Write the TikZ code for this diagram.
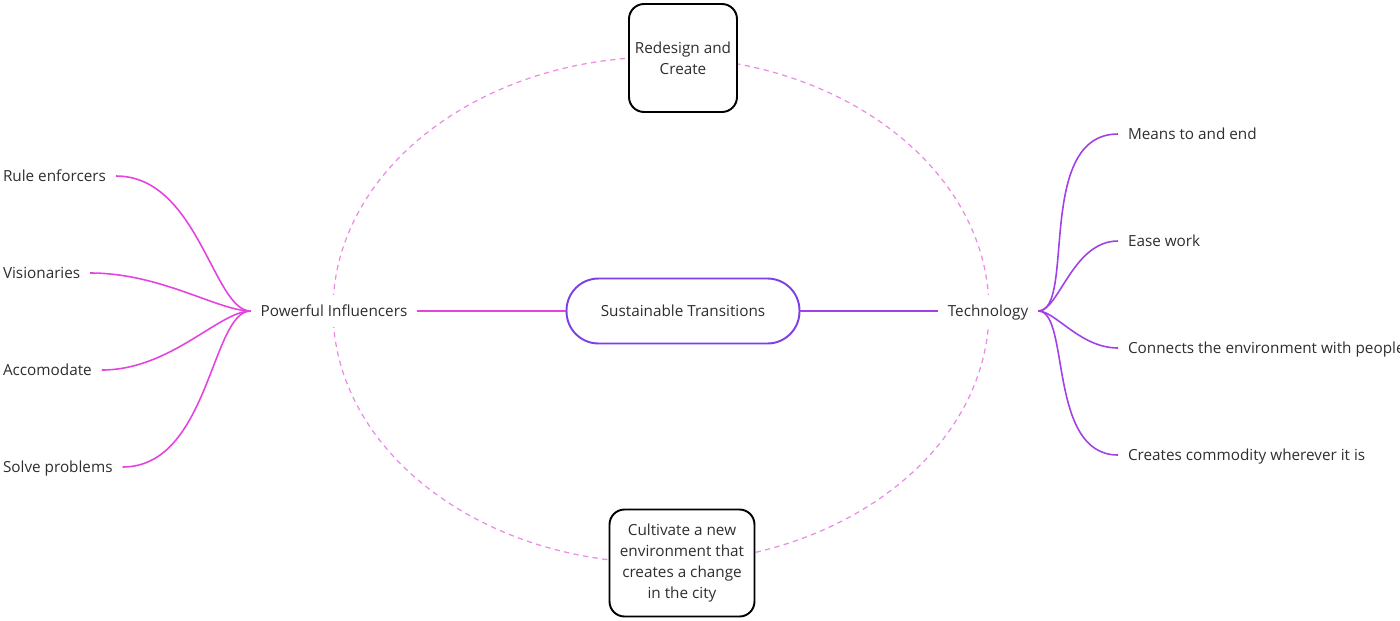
\documentclass[tikz,border=0pt]{standalone}
\usepackage{fontspec}
\setmainfont{Open Sans}
\definecolor{inflc}{HTML}{E443DE}
\definecolor{techc}{HTML}{A040E6}
\definecolor{rootc}{HTML}{7D3FE6}
\definecolor{ringc}{HTML}{EA8BE6}
\definecolor{txtc}{HTML}{2E2E2E}
\tikzset{
  box/.style={draw=black,line width=1.1pt,rounded corners=0.3cm,fill=white,align=center,inner sep=0pt},
  topic/.style={fill=white,inner xsep=5.5pt,inner ysep=4pt,text height=1.6ex,text depth=0.4ex},
  leaf/.style={anchor=west,inner xsep=5.5pt,inner ysep=2pt,text height=1.6ex,text depth=0.4ex},
  infl/.style={draw=inflc,line width=0.9pt},
  tech/.style={draw=techc,line width=0.9pt}
}
\begin{document}
\begin{tikzpicture}[x=0.02cm,y=-0.02cm,font=\fontsize{8.7}{12}\selectfont,text=txtc]
	\useasboundingbox (0,0) rectangle (1400,620);
	\draw[ringc,line width=0.7pt,dash pattern=on 3pt off 2.5pt] (661,310) ellipse [x radius=328, y radius=253];
	\node[box,minimum width=2.16cm,minimum height=2.16cm] (redesign) at (683,58) {Redesign and\\Create};
	\node[box,minimum width=2.9cm,minimum height=2.14cm] (cultivate) at (682,563) {Cultivate a new\\environment that\\creates a change\\in the city};
	\node[draw=rootc,line width=1.1pt,rounded corners=0.64cm,fill=white,minimum width=4.66cm,minimum height=1.3cm] (root) at (683,311) {Sustainable Transitions};
	\node[topic] (pi) at (334,311) {Powerful Influencers};
	\node[topic] (tech) at (988,311) {Technology};
	\node[leaf] (rule) at (-7,176) {Rule enforcers};
	\node[leaf] (vis) at (-7,273) {Visionaries};
	\node[leaf] (acc) at (-7,370) {Accomodate};
	\node[leaf] (solve) at (-7,467) {Solve problems};
	\node[leaf] (means) at (1118,134) {Means to and end};
	\node[leaf] (ease) at (1118,241) {Ease work};
	\node[leaf] (conn) at (1118,348) {Connects the environment with people};
	\node[leaf] (comm) at (1118,455) {Creates commodity wherever it is};
	\draw[infl] (root.west) -- (pi.east);
	\draw[tech] (root.east) -- (tech.west);
	\foreach \n in {rule,vis,acc,solve}
		\draw[infl] (pi.west) to[out=180,in=0,out looseness=0.5,in looseness=1.1] (\n.east);
	\foreach \n in {means,ease,conn,comm}
		\draw[tech] (tech.east) to[out=0,in=180,out looseness=0.5,in looseness=1.1] (\n.west);
\end{tikzpicture}
\end{document}
